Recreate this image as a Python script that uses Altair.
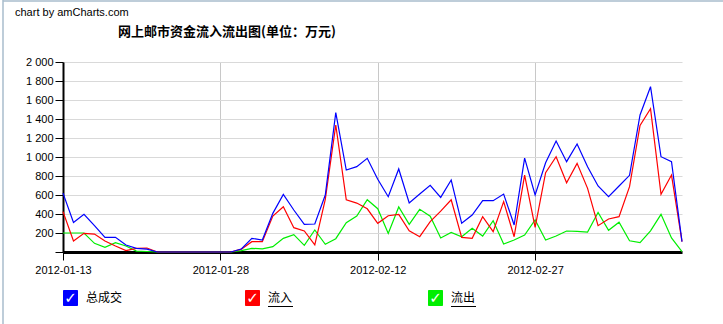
import altair as alt
import pandas as pd

# ---- data ----
series_names = ["总成交", "流入", "流出"]
series_colors = ["#0000ff", "#ff0000", "#00ee00"]

dates = pd.date_range("2012-01-13", "2012-03-12", freq="D").strftime("%Y-%m-%d").tolist()

total = [620, 310, 396, 277, 154, 154, 74, 39, 30,
         0, 0, 0, 0, 0, 0, 0, 0,
         32, 144, 126, 407, 607, 442, 291, 295, 600, 1467,
         863, 898, 986, 765, 582, 874, 516, 611, 702, 575, 758,
         302, 389, 540, 540, 610, 284, 989, 600, 940, 1168, 951, 1137,
         898, 695, 582, 695, 807, 1442, 1740, 1003, 951, 109]

inflow = [425, 116, 196, 189, 116, 63, 14, 38, 42,
          0, 0, 0, 0, 0, 0, 0, 0,
          30, 109, 109, 379, 477, 256, 221, 74, 554, 1337,
          550, 515, 455, 302, 382, 396, 224, 161, 319, 430, 550,
          154, 144, 372, 214, 530, 161, 810, 259, 835, 1003, 729, 933,
          670, 277, 347, 372, 688, 1333, 1509, 607, 810, 109]

outflow = [200, 200, 200, 91, 49, 98, 63, 10, 5,
           0, 0, 0, 0, 0, 0, 0, 0,
           14, 39, 32, 56, 144, 183, 70, 232, 81, 140,
           309, 379, 550, 456, 196, 474, 291, 449, 377, 148, 205,
           161, 249, 168, 330, 84, 126, 179, 337, 126, 168, 221, 218,
           210, 416, 228, 314, 118, 98, 223, 396, 148, 5]

x_tick_dates = ["2012-01-13", "2012-01-28", "2012-02-12", "2012-02-27"]
y_ticks = list(range(0, 2001, 200))

df = pd.DataFrame({
    "date": dates * 3,
    "value": total + inflow + outflow,
    "series": [series_names[0]] * len(dates) + [series_names[1]] * len(dates) + [series_names[2]] * len(dates),
})


def dt(s):
    y, m, d = (int(p) for p in s.split("-"))
    return alt.DateTime(year=y, month=m, date=d, utc=True)


LAT = "Liberation Sans"
CJK = "Noto Sans CJK SC"

x_enc = alt.X(
    "date:T",
    scale=alt.Scale(type="utc", domain=[dt(dates[0]), dt(dates[-1])]),
    axis=alt.Axis(
        title=None,
        values=[dt(s) for s in x_tick_dates],
        labelExpr="utcFormat(datum.value, '%Y-%m-%d')",
        grid=True, gridColor="#c8c8c8", gridWidth=1,
        domainColor="#000000", domainWidth=3,
        tickColor="#000000", tickSize=8, tickWidth=1,
        labelFont=LAT, labelFontSize=11, labelColor="#000000",
        labelPadding=4, labelFlush=False, labelOverlap=False,
    ),
)
y_enc = alt.Y(
    "value:Q",
    scale=alt.Scale(domain=[0, 2000], nice=False),
    axis=alt.Axis(
        title=None,
        values=y_ticks,
        labelExpr="datum.value == 0 ? '' : replace(format(datum.value, ','), ',', ' ')",
        grid=True, gridColor="#d9d9d9", gridWidth=1,
        domainColor="#000000", domainWidth=2,
        tickColor="#000000", tickSize=8, tickWidth=1,
        labelFont=LAT, labelFontSize=11, labelColor="#000000",
        labelPadding=2,
    ),
)

layers = []
# draw outflow, inflow, then total on top
for name, color in reversed(list(zip(series_names, series_colors))):
    layers.append(
        alt.Chart(df).transform_filter(alt.datum.series == name)
        .mark_line(strokeWidth=1.2, color=color)
        .encode(x=x_enc, y=y_enc)
    )

# header texts
hdr = pd.DataFrame({"credit": ["chart by amCharts.com"], "title": ["网上邮市资金流入流出图(单位：万元)"]})
layers.append(
    alt.Chart(hdr).mark_text(align="left", baseline="middle", font=LAT, fontSize=11, color="#000000")
    .encode(text="credit:N", x=alt.value(-48), y=alt.value(-49))
)
layers.append(
    alt.Chart(hdr).mark_text(align="left", baseline="middle", font=CJK, fontSize=13, fontWeight="bold", color="#000000")
    .encode(text="title:N", x=alt.value(55), y=alt.value(-30))
)

# frame lines on the left and top
layers.append(
    alt.Chart(hdr).mark_rule(color="#a9bccd", strokeWidth=1.5)
    .encode(x=alt.value(-60), y=alt.value(-62), y2=alt.value(262))
)
layers.append(
    alt.Chart(hdr).mark_rule(color="#a9bccd", strokeWidth=1.5)
    .encode(x=alt.value(-60), x2=alt.value(660), y=alt.value(-61))
)

# custom legend (checkbox + label)
legend_x = [0, 182, 365]
underline = [False, True, True]
label_w = [35, 25, 25]
for name, color, lx, ul, lw in zip(series_names, series_colors, legend_x, underline, label_w):
    ld = pd.DataFrame({"name": [name]})
    layers.append(
        alt.Chart(ld).mark_rect(color=color, cornerRadius=1)
        .encode(x=alt.value(lx), x2=alt.value(lx + 15), y=alt.value(228), y2=alt.value(244))
    )
    layers.append(
        alt.Chart(ld).mark_text(text="✓", align="center", baseline="middle", font="DejaVu Sans",
                                fontSize=15, fontWeight="bold", color="#ffffff")
        .encode(x=alt.value(lx + 7.5), y=alt.value(236))
    )
    layers.append(
        alt.Chart(ld).mark_text(align="left", baseline="middle", font=CJK, fontSize=12, color="#000000")
        .encode(text="name:N", x=alt.value(lx + 23), y=alt.value(236))
    )
    if ul:
        layers.append(
            alt.Chart(ld).mark_rule(color="#000000", strokeWidth=1)
            .encode(x=alt.value(lx + 23), x2=alt.value(lx + 23 + lw), y=alt.value(244.5))
        )

chart = alt.layer(*layers).properties(
    width=619,
    height=190,
    autosize=alt.AutoSizeParams(type="none"),
    padding={"left": 63, "top": 62, "right": 41, "bottom": 72},
    background="#ffffff",
).configure_view(stroke=None)

chart.save("out.html", embed_options={"renderer": "svg", "actions": False})
